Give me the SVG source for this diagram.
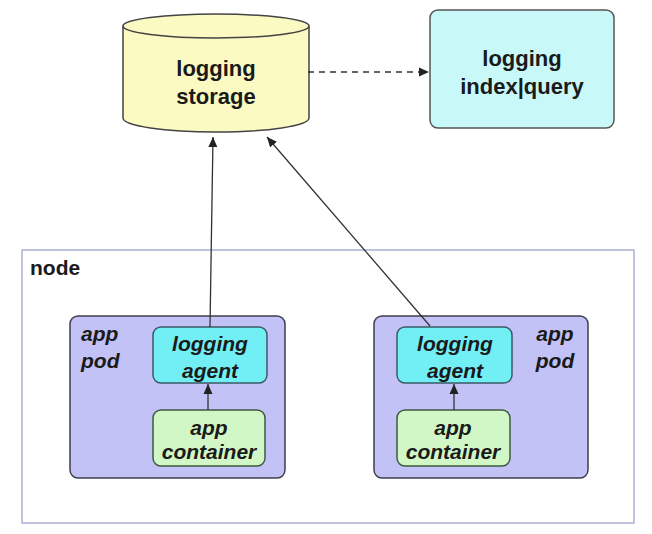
<svg xmlns="http://www.w3.org/2000/svg" width="652" height="534" viewBox="0 0 652 534">
<defs>
<marker id="ah" viewBox="0 0 10 10" refX="10" refY="5" markerWidth="10" markerHeight="10" markerUnits="userSpaceOnUse" orient="auto">
<path d="M0,0.5 L10,5 L0,9.5 z" fill="#222"/>
</marker>
<style>
text{font-family:"Liberation Sans",Arial,sans-serif;font-weight:bold;fill:#1a1a1a;text-anchor:middle}
.it{font-style:italic}
.pod{fill:#c2c2f7;stroke:#3e3e4e;stroke-width:1.5}
.agent{fill:#72eff5;stroke:#3a5a66;stroke-width:1.5}
.cont{fill:#d2f7c6;stroke:#3e5a3e;stroke-width:1.5}
.conn{stroke:#333;stroke-width:1.3;fill:none}
</style>
</defs>
<rect width="652" height="534" fill="#fff"/>

<g id="node">
<rect x="22" y="250" width="612" height="273" fill="#fff" stroke="#aab0d2" stroke-width="1.5"/>
<text x="30" y="275" font-size="21" style="text-anchor:start">node</text>
</g>

<g id="storage">
<path d="M123,26 L123,118 A93,14 0 0 0 309,118 L309,26" fill="#fafac2" stroke="#444" stroke-width="1.5"/>
<ellipse cx="216" cy="26" rx="93" ry="12" fill="#fafac2" stroke="#444" stroke-width="1.5"/>
<text x="216" y="76" font-size="22">logging</text>
<text x="216" y="104" font-size="22">storage</text>
</g>

<g id="index">
<rect x="430" y="10" width="184" height="118" rx="8" fill="#c8f8f8" stroke="#555" stroke-width="1.5"/>
<text x="522" y="66" font-size="22">logging</text>
<text x="522" y="94" font-size="22">index|query</text>
</g>

<g id="pod-left">
<rect class="pod" x="70" y="316" width="215" height="162" rx="8"/>
<text class="it" x="81" y="341" font-size="21" style="text-anchor:start">app</text>
<text class="it" x="81" y="368" font-size="21" style="text-anchor:start">pod</text>
</g>
<g id="agent-left">
<rect class="agent" x="153" y="327" width="114" height="56" rx="8"/>
<text class="it" x="210" y="351" font-size="21">logging</text>
<text class="it" x="210" y="378" font-size="21">agent</text>
</g>
<g id="container-left">
<rect class="cont" x="153" y="410" width="112" height="56" rx="8"/>
<text class="it" x="209" y="435" font-size="21">app</text>
<text class="it" x="209" y="459" font-size="21">container</text>
</g>

<g id="pod-right">
<rect class="pod" x="374" y="316" width="214" height="162" rx="8"/>
<text class="it" x="555" y="341" font-size="21">app</text>
<text class="it" x="555" y="368" font-size="21">pod</text>
</g>
<g id="agent-right">
<rect class="agent" x="397" y="327" width="115" height="56" rx="8"/>
<text class="it" x="455" y="351" font-size="21">logging</text>
<text class="it" x="455" y="378" font-size="21">agent</text>
</g>
<g id="container-right">
<rect class="cont" x="397" y="410" width="113" height="56" rx="8"/>
<text class="it" x="453" y="435" font-size="21">app</text>
<text class="it" x="453" y="459" font-size="21">container</text>
</g>

<g id="connectors">
<line class="conn" x1="308" y1="72" x2="429" y2="72" stroke-dasharray="6,5" marker-end="url(#ah)"/>
<line class="conn" x1="210" y1="327" x2="213" y2="137" marker-end="url(#ah)"/>
<line class="conn" x1="430" y1="326" x2="267" y2="137" marker-end="url(#ah)"/>
<line class="conn" x1="208" y1="410" x2="208" y2="384" marker-end="url(#ah)"/>
<line class="conn" x1="454" y1="410" x2="454" y2="384" marker-end="url(#ah)"/>
</g>
</svg>
